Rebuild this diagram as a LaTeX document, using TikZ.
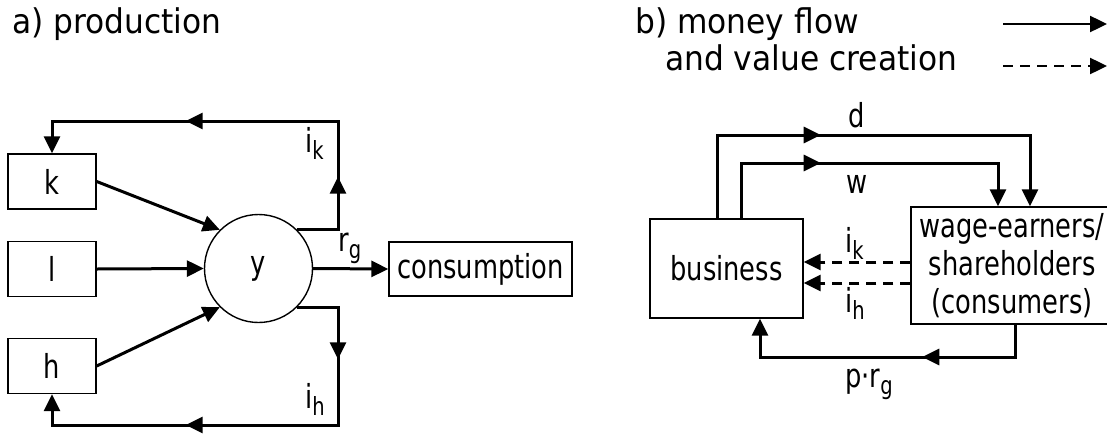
\documentclass[tikz,border=0pt]{standalone}
\usepackage{fontspec}
\setmainfont{DejaVu Sans}[FakeStretch=0.78]
\newfontfamily\headfont{DejaVu Sans}[FakeStretch=0.92]
\usetikzlibrary{arrows.meta,decorations.markings}
\newcommand\lowsub[1]{\raisebox{-0.22em}{\fontsize{25}{25}\selectfont #1}}
\tikzset{midtip/.style={postaction={decorate,decoration={markings,mark=at position #1 with {\arrow{Triangle[length=17pt,width=16pt]}}}}}}

\begin{document}
\begin{tikzpicture}[x=1pt,y=-1pt,font=\fontsize{33}{38}\selectfont]
	\tikzstyle{box}=[draw,line width=1.4pt,inner sep=0pt];
	\tikzstyle{flow}=[line width=3pt,-{Triangle[length=17pt,width=16pt]}];
	\tikzstyle{value}=[flow,dash pattern=on 10pt off 7pt];
	\tikzstyle{lab}=[inner sep=0pt];
	\tikzstyle{head}=[lab,anchor=base west,font=\headfont\fontsize{34}{38}\selectfont];
	\useasboundingbox (0,0) rectangle (1107,434);
	% a) production
	\node[head] (ta) at (12,33) {a) production};
	\node[box,minimum width=88pt,minimum height=55pt] (k) at (52,181.5) {k};
	\node[box,minimum width=88pt,minimum height=55pt] (l) at (52,269) {l};
	\node[box,minimum width=88pt,minimum height=55pt] (h) at (52,366) {h};
	\node[draw,circle,line width=1.4pt,minimum size=108pt,inner sep=0pt] (y) at (258.5,268.5) {y};
	\node[box,minimum width=183pt,minimum height=54pt] (cons) at (480.5,269) {consumption};
	\coordinate (ktop) at (338,121);
	\coordinate (hbot) at (338,425);
	\draw[flow] (k.east) to (y.135);
	\draw[flow] (l.east) to (y.west);
	\draw[flow] (h.east) to (y.225);
	\draw[flow] (y.east) to (cons.west);
	\draw[flow,midtip=94pt,midtip=302pt] (y.45) -| (ktop) -| (k.north);
	\draw[flow,midtip=93pt,midtip=311pt] (y.315) -| (hbot) -| (h.south);
	\node[lab,anchor=base west] (ik1) at (305,152) {i\lowsub{k}};
	\node[lab,anchor=base west] (rg1) at (338,251) {r\lowsub{g}};
	\node[lab,anchor=base west] (ih1) at (305,408) {i\lowsub{h}};
	% b) money flow
	\node[head] (tb) at (635,33) {b) money flow};
	\node[head] (tc) at (665,70) {and value creation};
	\coordinate (m0) at (1003,24);
	\coordinate (m1) at (1107,24);
	\coordinate (v0) at (1003,66);
	\coordinate (v1) at (1107,66);
	\draw[flow,line width=2.4pt] (m0) to (m1);
	\draw[value,line width=2.4pt] (v0) to (v1);
	\node[box,minimum width=153pt,minimum height=99pt] (bus) at (726.5,268.5) {business};
	\node[box,minimum width=202pt,minimum height=117pt,align=center] (wage) at (1012,265.5) {wage-earners/\\shareholders\\(consumers)};
	\coordinate (d0) at (717,135);
	\coordinate (d1) at (1030,135);
	\coordinate (w0) at (741,163);
	\coordinate (w1) at (998,163);
	\coordinate (p0) at (1015,357);
	\coordinate (p1) at (760,357);
	\coordinate (ik) at ([yshift=3.5pt]wage.west);
	\coordinate (ih) at ([yshift=-17.5pt]wage.west);
	\draw[flow,midtip=187pt] (d0 |- bus.north) -- (d0) -- (d1) -- (d1 |- wage.north);
	\draw[flow,midtip=135pt] (w0 |- bus.north) -- (w0) -- (w1) -- (w1 |- wage.north);
	\draw[flow,midtip=125pt] (p0 |- wage.south) -- (p0) -- (p1) -- (p1 |- bus.south);
	\draw[value] (ik) to (ik -| bus.east);
	\draw[value] (ih) to (ih -| bus.east);
	\node[lab,anchor=base] (dlab) at (857,127) {d};
	\node[lab,anchor=base] (wlab) at (857,193) {w};
	\node[lab,anchor=base west] (ik2) at (845,252) {i\lowsub{k}};
	\node[lab,anchor=base west] (ih2) at (845,312) {i\lowsub{h}};
	\node[lab,anchor=base west] (prg) at (845,387) {p·r\lowsub{g}};
\end{tikzpicture}
\end{document}
